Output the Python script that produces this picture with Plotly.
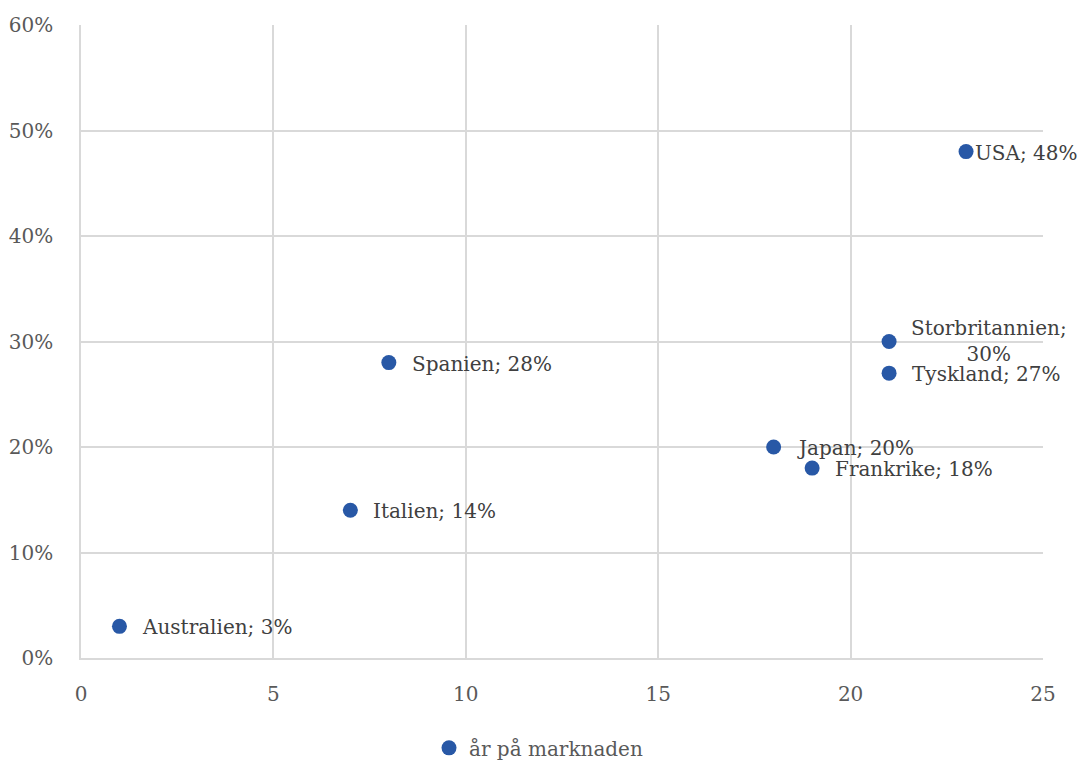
import plotly.graph_objects as go

# Countries, years on the market and market share
countries = ["Australien", "Italien", "Spanien", "Japan", "Frankrike",
             "Storbritannien", "Tyskland", "USA"]
years = [1, 7, 8, 18, 19, 21, 21, 23]
share = [0.03, 0.14, 0.28, 0.20, 0.18, 0.30, 0.27, 0.48]

x_ticks = [0, 5, 10, 15, 20, 25]
y_ticks = [0, 0.1, 0.2, 0.3, 0.4, 0.5, 0.6]
series_name = "år på marknaden"

FONT = "DejaVu Serif"
MARKER = "#2858a6"
GRID = "#d9d9d9"

fig = go.Figure()
fig.add_trace(go.Scatter(
    x=years, y=share, mode="markers", name=series_name,
    marker=dict(color=MARKER, size=15),
    hoverinfo="skip",
))

# Data labels "Land; xx%" to the right of each point
label_shift = {"USA": 7}
for c, xv, yv in zip(countries, years, share):
    pct = round(yv * 100)
    if c == "Storbritannien":
        fig.add_annotation(x=xv, y=yv, text=f"{c};<br>{pct}%", showarrow=False,
                           xanchor="left", yanchor="middle", align="center",
                           xshift=20, yshift=1,
                           font=dict(family=FONT, size=20, color="#404040"))
        continue
    fig.add_annotation(x=xv, y=yv, text=f"{c}; {pct}%", showarrow=False,
                       xanchor="left", yanchor="middle",
                       xshift=label_shift.get(c, 21), yshift=-1,
                       font=dict(family=FONT, size=20, color="#404040"))

fig.update_layout(
    width=1077, height=760,
    margin=dict(l=81, r=34, t=25, b=102, autoexpand=False),
    paper_bgcolor="white", plot_bgcolor="white",
    font=dict(family=FONT, size=20, color="#595959"),
    showlegend=True,
    legend=dict(orientation="h", x=0.5, xanchor="center", xref="container",
                y=0.016, yanchor="middle", yref="container",
                font=dict(family=FONT, size=20, color="#595959"),
                itemsizing="trace", itemwidth=30),
    xaxis=dict(range=[0, 25], tickvals=x_ticks, showgrid=True,
               gridcolor=GRID, gridwidth=1.5, zeroline=False,
               showline=True, linecolor=GRID, linewidth=1.5,
               ticks="", ticklabelstandoff=17),
    yaxis=dict(range=[0, 0.6], tickvals=y_ticks, tickformat=".0%",
               showgrid=True, gridcolor=GRID, gridwidth=1.5, zeroline=False,
               showline=True, linecolor=GRID, linewidth=1.5,
               ticks="", ticklabelstandoff=22),
)

fig.write_html("out.html")
